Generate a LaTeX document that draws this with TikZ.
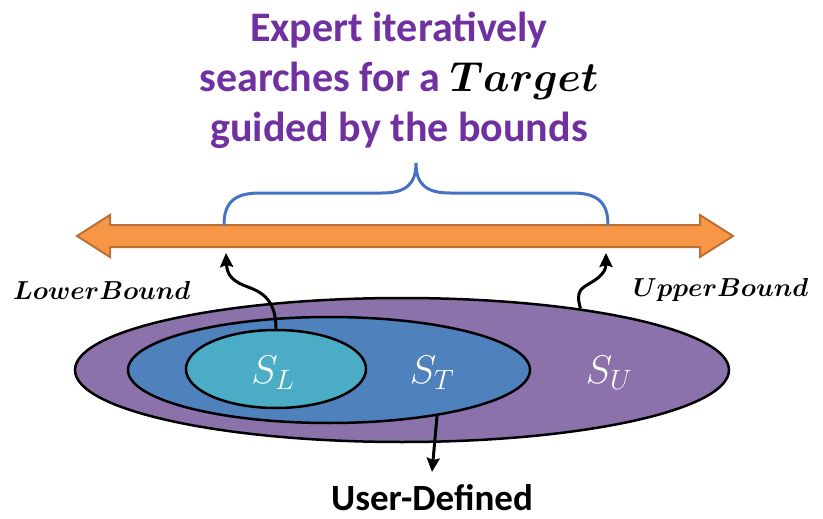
\RequirePackage{fix-cm}
\documentclass[tikz,border=0pt]{standalone}
\usepackage{bm}
\usepackage{fontspec}
\setmainfont{Carlito}
\usetikzlibrary{shapes.geometric,arrows.meta}
\definecolor{setU}{RGB}{139,114,170}
\definecolor{setT}{RGB}{79,129,189}
\definecolor{setL}{RGB}{75,172,198}
\definecolor{rangefill}{RGB}{247,150,70}
\definecolor{rangeedge}{RGB}{190,112,52}
\definecolor{bracecol}{RGB}{68,114,196}
\definecolor{titlecol}{RGB}{112,48,160}
\tikzset{
  setshape/.style={ellipse, draw=black, line width=2.5pt, inner sep=0pt},
  setlabel/.style={text=white, font=\fontsize{40}{44}\selectfont},
  boundlabel/.style={font=\fontsize{26}{30}\selectfont, inner sep=0pt, anchor=base west},
  pointer/.style={line width=3pt, -{Stealth[length=14pt,width=13pt,inset=2pt]}},
}
\begin{document}
\begin{tikzpicture}[x=1pt,y=-1pt]
\useasboundingbox (0,0) rectangle (823,519);

% the value range, open on both sides
\filldraw[fill=rangefill, draw=rangeedge, line width=2pt, line join=miter]
  (77,236) -- (110,215) -- (110,225) -- (700,225) -- (700,215) -- (733,236)
  -- (700,257) -- (700,247) -- (110,247) -- (110,257) -- cycle;

% brace over the search interval
\coordinate (braceL) at (224,225);
\coordinate (braceR) at (608,225);
\coordinate (braceTip) at (416,163);
\draw[bracecol, line width=3pt]
  (braceL) .. controls (224,201) and (236,193) .. (260,193) -- (382,193)
  .. controls (406,193) and (416,184) .. (braceTip)
  .. controls (416,184) and (426,193) .. (450,193) -- (572,193)
  .. controls (596,193) and (608,201) .. (braceR);

\node[align=center, text=titlecol, font=\bfseries\fontsize{42}{50}\selectfont]
  (title) at (399,80)
  {Expert iteratively\\searches for a \textcolor{black}{$\bm{Target}$}\\guided by the bounds};

% nested sets
\node[setshape, fill=setU, minimum width=654, minimum height=144] (U) at (402,370) {};
\node[setshape, fill=setT, minimum width=402, minimum height=106] (T) at (329,370) {};
\node[setshape, fill=setL, minimum width=180, minimum height=78] (L) at (276,369) {};

\node[setlabel] (sl) at (273,373) {$S_L$};
\node[setlabel] (st) at (432,373) {$S_T$};
\node[setlabel] (su) at (609,373) {$S_U$};

% bound labels and pointers
\node[boundlabel] (lowlbl) at (13,299) {$\bm{LowerBound}$};
\node[boundlabel] (uplbl) at (633,296) {$\bm{UpperBound}$};

\coordinate (lbTip) at (226,253);
\coordinate (ubTip) at (606,253);
\coordinate (udTip) at (432,472);

\draw[pointer] (L.north) .. controls (276,300) and (262,292) .. (248,287)
  .. controls (234,282) and (227,276) .. (lbTip);
\draw[pointer] (U.19.5) .. controls (575,290) and (582,288) .. (592,282)
  .. controls (602,276) and (606,270) .. (ubTip);
\draw[pointer] (T.-23.8) -- (udTip);

\node[font=\bfseries\fontsize{37}{40}\selectfont, anchor=base, inner sep=0pt] (ud) at (432,510) {User-Defined};
\end{tikzpicture}
\end{document}
